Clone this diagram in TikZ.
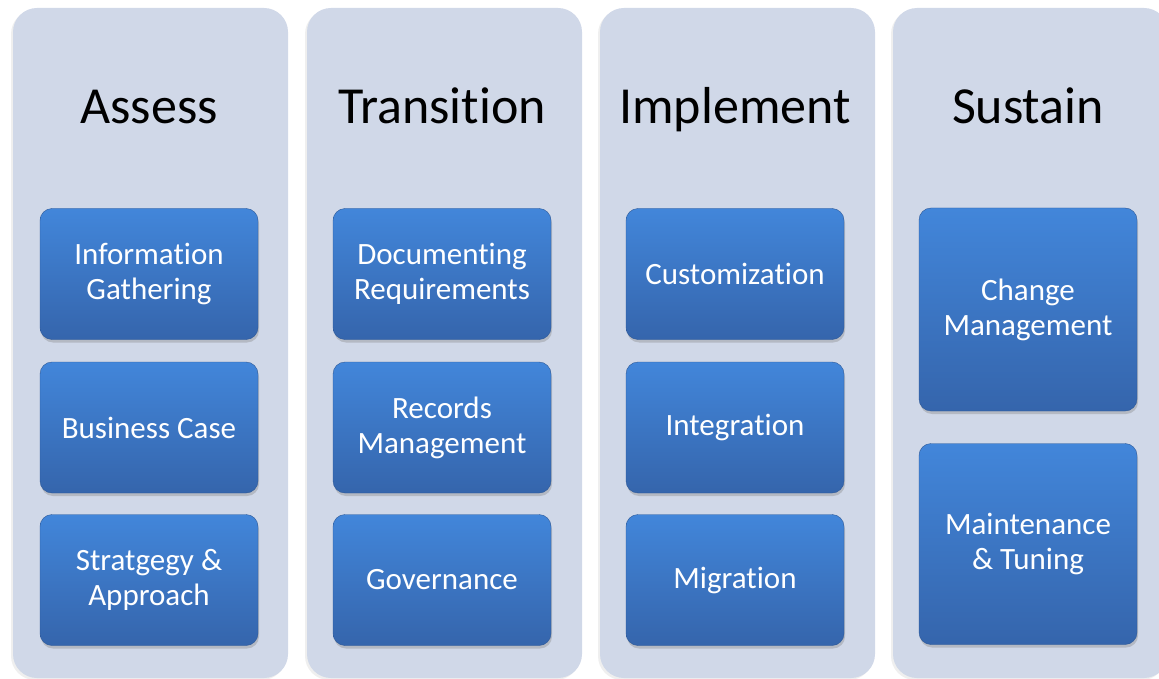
\documentclass[tikz,border=0pt]{standalone}
\usepackage{fontspec}
\setmainfont{Carlito}[RawFeature = {-liga;-clig;-calt;-dlig}]
\usetikzlibrary{shadows}
\definecolor{panelfill}{HTML}{D0D8E8}
\definecolor{boxtop}{HTML}{4286DA}
\definecolor{boxbot}{HTML}{3565AC}
\definecolor{boxline}{HTML}{2D5897}
\tikzset{
  phase/.style = {fill = panelfill, rounded corners = 24pt, minimum width = 275pt,
    minimum height = 670pt, inner sep = 0pt,
    drop shadow = {opacity = 0.12, shadow xshift = -2pt, shadow yshift = -2pt}},
  heading/.style = {anchor = base, font = \fontsize{52}{60}\selectfont},
  task/.style = {draw = boxline, rounded corners = 12pt, top color = boxtop,
    bottom color = boxbot, text = white, minimum width = 218pt,
    minimum height = 131pt, align = center, inner sep = 0pt,
    font = \fontsize{31}{35}\selectfont,
    drop shadow = {opacity = 0.35, shadow xshift = 1pt, shadow yshift = -3pt}},
}
\begin{document}
\begin{tikzpicture}[x = 1pt, y = -1pt]
  \useasboundingbox[fill = white] (0,0) rectangle (1159,679);
  % the four phases
  \node[phase] (assessPanel) at (150.5,343) {};
  \node[phase] (transitionPanel) at (444.5,343) {};
  \node[phase] (implementPanel) at (737.5,343) {};
  \node[phase] (sustainPanel) at (1030.5,343) {};
  \node[heading] (assess) at (149,124) {Assess};
  \node[heading] (transition) at (442,124) {Transition};
  \node[heading] (implement) at (735,124) {Implement};
  \node[heading] (sustain) at (1028,124) {Sustain};
  % assess
  \node[task] (gathering) at (149,274) {Information\\Gathering};
  \node[task] (business) at (149,427.5) {Business Case};
  \node[task] (approach) at (149,580) {Stratgegy \&\\Approach};
  % transition
  \node[task] (requirements) at (442,274) {Documenting\\Requirements};
  \node[task] (records) at (442,427.5) {Records\\Management};
  \node[task] (governance) at (442,580) {Governance};
  % implement
  \node[task] (customization) at (735,274) {Customization};
  \node[task] (integration) at (735,427.5) {Integration};
  \node[task] (migration) at (735,580) {Migration};
  % sustain
  \node[task, minimum height = 203pt] (change) at (1028,309.5) {Change\\Management};
  \node[task, minimum height = 201pt] (tuning) at (1028,544) {Maintenance\\\& Tuning};
\end{tikzpicture}
\end{document}
